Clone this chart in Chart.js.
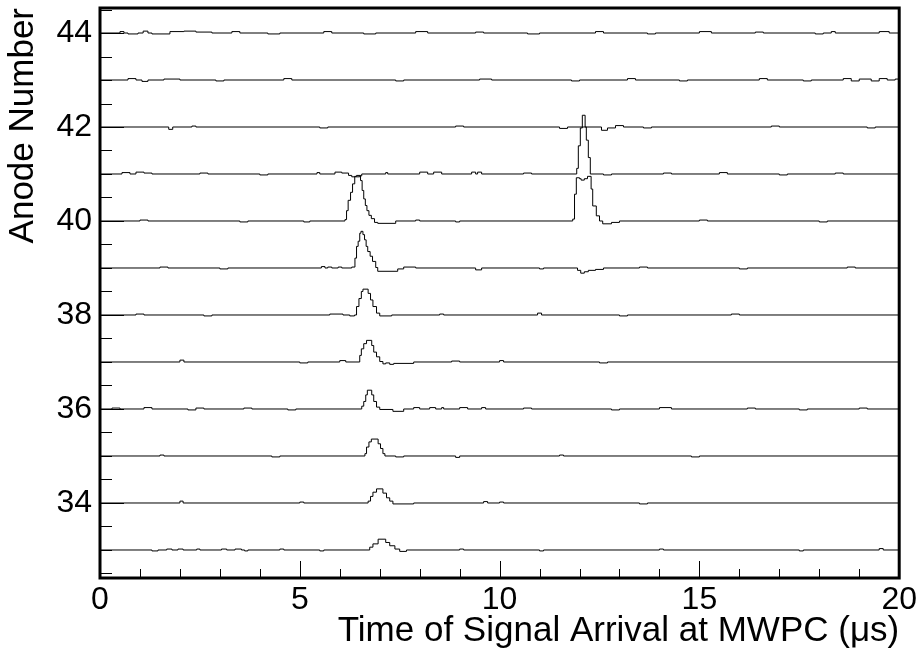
<!DOCTYPE html>
<html>
<head>
<meta charset="utf-8">
<script src="https://cdn.jsdelivr.net/npm/chart.js@4.4.1/dist/chart.umd.min.js"></script>
<style>
  html, body { margin: 0; padding: 0; background: #fff; }
  #wrap { width: 920px; height: 657px; }
</style>
</head>
<body>
<div id="wrap"><canvas id="mwpcChart" width="920" height="657"></canvas></div>
<script>
// anode channels (bottom to top) and tick labels
const anodes = [33, 34, 35, 36, 37, 38, 39, 40, 41, 42, 43, 44];
const yTickLabels = [34, 36, 38, 40, 42, 44];
const xTickLabels = [0, 5, 10, 15, 20];

// traces: [time in us, pulse height above the anode baseline]
// each value holds from its time until the next point
const ch44 = [[0,0],[0.5,0.03],[0.6,0],[0.7,-0.02],[0.95,0],[1.08,0.04],[1.2,0],[1.3,-0.02],[1.75,0.03],[2.1,0.04],[2.4,0.02],[2.8,0],[3.3,0.03],[3.5,0],[4.2,-0.02],[4.5,0],[5.6,0.03],[5.8,0],[6.6,-0.02],[6.9,0],[7.9,0.03],[8.2,0],[9.4,0.02],[9.6,0],[10.7,-0.02],[11.0,0],[12.4,0.03],[12.6,0],[13.7,-0.02],[13.9,0],[15.0,0.03],[15.3,0],[16.4,0.02],[16.6,0],[17.9,-0.02],[18.1,0],[18.3,0.03],[18.4,0],[19.5,0.03],[19.75,0],[20,0]];
const ch43 = [[0,0],[0.7,0.03],[0.9,0],[1.05,-0.03],[1.2,0],[1.6,0.02],[2.0,0],[2.9,-0.02],[3.1,0],[4.6,0.03],[4.8,0],[7.4,-0.02],[7.6,0],[9.5,0.02],[9.8,0],[11.8,-0.02],[12.0,0],[13.2,0.03],[13.4,0],[14.5,-0.02],[14.7,0],[16.5,0.03],[16.7,0],[17.6,-0.02],[17.8,0],[18.6,0.03],[18.8,-0.02],[19.0,0.02],[19.3,-0.02],[19.5,0.03],[19.7,0],[19.9,0.02],[20,0.02]];
const ch42 = [[0,0],[1.72,-0.05],[1.82,0],[2.3,0.02],[2.4,0],[5.5,-0.02],[5.7,0],[8.9,0.02],[9.1,0],[11.5,-0.03],[11.7,0],[12.55,-0.07],[12.7,-0.02],[12.9,0.03],[13.1,0],[13.6,-0.02],[13.8,0],[16.8,0.02],[17.0,0],[19.2,-0.02],[19.4,0],[20,0]];
const ch41 = [[0,0],[0.55,0.03],[0.75,0],[0.9,0.04],[1.1,0.02],[1.3,0],[2.5,0.02],[2.7,0],[4.0,-0.02],[4.2,0],[5.43,0.03],[5.5,0],[5.88,0.04],[6.05,0.02],[6.22,-0.03],[6.3,-0.06],[6.5,-0.04],[6.55,0],[7.15,0.03],[7.2,0],[8.0,0.04],[8.2,0],[8.35,0.04],[8.55,0],[9.3,0.04],[9.4,0],[9.45,0.04],[9.55,0],[10.6,0.02],[10.8,0],[11.93,0.12],[11.97,0.6],[12.02,0.98],[12.07,1.25],[12.14,1.0],[12.17,0.72],[12.22,0.35],[12.27,0],[12.6,-0.02],[12.8,0],[14.1,0.02],[14.3,0],[15.5,0.03],[15.7,0],[17.0,-0.02],[17.2,0],[18.4,0.02],[18.6,0],[20,0]];
const ch40 = [[0,0],[1.0,0.02],[1.2,0],[3.5,-0.02],[3.7,0],[5.1,-0.02],[5.25,0],[6.13,0.03],[6.17,0.22],[6.21,0.44],[6.27,0.61],[6.32,0.79],[6.375,0.95],[6.42,0.97],[6.52,0.86],[6.56,0.65],[6.6,0.47],[6.64,0.33],[6.68,0.22],[6.73,0.12],[6.79,0.05],[6.87,-0.03],[6.95,-0.05],[7.4,0],[7.9,0.02],[8.0,0],[8.9,-0.02],[9.0,0],[11.83,0.04],[11.875,0.57],[11.92,0.92],[12.0,0.9],[12.04,0.87],[12.12,0.9],[12.2,0.95],[12.29,0.68],[12.33,0.32],[12.42,0.11],[12.5,0],[12.58,-0.06],[12.8,-0.03],[13.0,0],[15.0,0.02],[15.2,0],[18.0,-0.02],[18.2,0],[20,0]];
const ch39 = [[0,0],[1.5,0.02],[1.7,0],[3.0,-0.02],[3.2,0],[5.54,0.03],[5.63,0],[5.7,0.02],[5.8,0],[5.96,0.02],[6.05,0],[6.3,0.02],[6.38,0.21],[6.42,0.46],[6.46,0.57],[6.5,0.74],[6.53,0.78],[6.58,0.71],[6.62,0.6],[6.66,0.46],[6.7,0.35],[6.76,0.25],[6.82,0.14],[6.9,0.01],[6.95,-0.07],[7.45,-0.02],[7.6,0.02],[7.9,0],[9.4,-0.04],[9.55,0],[11.0,-0.02],[11.1,0],[11.95,-0.05],[12.03,-0.11],[12.12,-0.08],[12.22,-0.05],[12.4,-0.03],[12.6,0],[13.5,0.02],[13.7,0],[16.0,-0.02],[16.2,0],[18.7,0.02],[18.9,0],[20,0]];
const ch38 = [[0,0],[0.9,0.02],[1.1,0],[2.6,-0.02],[2.8,0],[5.75,0.02],[6.08,0],[6.25,-0.02],[6.37,0],[6.42,0.18],[6.48,0.35],[6.54,0.5],[6.58,0.55],[6.71,0.46],[6.77,0.32],[6.83,0.18],[6.92,0.04],[7.0,-0.02],[7.3,0],[8.5,0.02],[8.6,0],[10.95,0.04],[11.05,0],[13.0,-0.02],[13.2,0],[15.8,0.02],[16.0,0],[20,0]];
const ch37 = [[0,0],[2.0,0.04],[2.1,0],[5.0,-0.02],[5.2,0],[6.0,0.03],[6.15,0],[6.5,0.14],[6.54,0.28],[6.6,0.39],[6.67,0.46],[6.8,0.35],[6.85,0.21],[6.92,0.11],[7.0,0.01],[7.08,-0.04],[7.15,-0.02],[7.25,-0.05],[7.35,-0.03],[7.85,0],[8.8,0.02],[9.0,0],[10.0,0.03],[10.1,0],[12.5,-0.02],[12.7,0],[20,0]];
const ch36 = [[0,0],[0.3,0.02],[0.5,0],[1.1,0.03],[1.3,0],[2.2,-0.02],[2.4,0.02],[2.6,0],[3.6,0.02],[3.8,0],[4.7,-0.02],[4.9,0],[6.55,0.06],[6.6,0.16],[6.65,0.3],[6.69,0.4],[6.8,0.3],[6.85,0.16],[6.92,0.04],[7.0,-0.01],[7.33,-0.05],[7.6,0],[7.85,0.03],[8.0,0],[8.25,0.03],[8.4,0],[8.55,0.03],[8.6,0],[9.0,0.03],[9.2,0],[9.55,0.03],[9.65,0],[10.6,0.02],[10.8,0],[12.8,-0.02],[13.0,0],[14.0,0.03],[14.3,0],[16.2,0.02],[16.4,0],[17.5,-0.02],[17.7,0],[19.0,0.02],[19.2,0],[20,0]];
const ch35 = [[0,0],[1.5,0.02],[1.6,0],[4.3,-0.02],[4.5,0],[6.63,0.05],[6.67,0.19],[6.73,0.3],[6.79,0.36],[6.96,0.26],[7.02,0.16],[7.08,0.05],[7.13,0],[7.4,-0.02],[7.6,0],[8.9,-0.03],[9.0,0],[11.5,0.02],[11.6,0],[14.8,-0.02],[15.0,0],[20,0]];
const ch34 = [[0,0],[2.0,0.04],[2.08,0],[5.0,0.02],[5.1,0],[6.71,0.04],[6.77,0.14],[6.83,0.23],[6.92,0.3],[7.08,0.21],[7.17,0.11],[7.25,0.04],[7.33,-0.02],[7.85,0],[9.6,0.03],[9.7,0],[10.0,0.02],[10.1,0],[13.5,-0.02],[13.7,0],[20,0]];
const ch33 = [[0,0],[1.3,-0.02],[1.45,0],[1.67,0.02],[1.8,0],[1.95,0.02],[2.08,0],[2.42,0.02],[2.5,0],[3.04,0.02],[3.17,0],[3.38,0.02],[3.54,0],[3.62,-0.02],[3.7,0],[4.5,0.02],[4.6,0],[5.5,-0.02],[5.6,0],[6.75,0.06],[6.83,0.13],[6.96,0.23],[7.15,0.16],[7.25,0.09],[7.38,0.02],[7.5,-0.03],[7.67,0],[9.0,0.02],[9.1,0],[11.0,-0.02],[11.1,0],[14.0,0.02],[14.1,0],[17.5,-0.02],[17.6,0],[19.5,0.03],[19.6,0],[20,0]];

const traces = [ch33, ch34, ch35, ch36, ch37, ch38, ch39, ch40, ch41, ch42, ch43, ch44];

Chart.defaults.font.family = '"Liberation Sans", Arial, sans-serif';
Chart.defaults.color = '#000';

// build one stepped line per anode, shifted up to its anode number
const datasets = anodes.map((n, i) => ({
    label: 'Anode ' + n,
    data: traces[i].map(p => ({ x: p[0], y: n + p[1] })),
    borderColor: '#000',
    borderWidth: 1,
    pointRadius: 0,
    stepped: true,
    fill: false
}));

// inward ticks and the thick frame, like the original plot
const framePlugin = {
    id: 'frameTicks',
    afterDatasetsDraw(chart) {
        const { ctx, chartArea: a, scales: { x, y } } = chart;
        ctx.save();
        ctx.strokeStyle = '#000';
        ctx.lineWidth = 1;
        ctx.beginPath();
        for (let v = x.min; v <= x.max; v += 1) {
            const px = Math.round(x.getPixelForValue(v)) + 0.5;
            const len = v % 5 === 0 ? 17 : 9;
            ctx.moveTo(px, a.bottom);
            ctx.lineTo(px, a.bottom - len);
        }
        for (let v = Math.ceil(y.min * 2) / 2; v <= y.max; v += 0.5) {
            const py = Math.round(y.getPixelForValue(v)) + 0.5;
            const len = v % 2 === 0 ? 24 : 12;
            ctx.moveTo(a.left, py);
            ctx.lineTo(a.left + len, py);
        }
        ctx.stroke();
        ctx.lineWidth = 3;
        ctx.strokeRect(a.left, a.top, a.right - a.left, a.bottom - a.top);
        ctx.restore();
    }
};

const ctx = document.getElementById('mwpcChart').getContext('2d');
const mwpcChart = new Chart(ctx, {
    type: 'line',
    data: { datasets: datasets },
    options: {
        responsive: false,
        animation: false,
        devicePixelRatio: 1,
        layout: { padding: { left: 0, right: 20, top: 8, bottom: 0 } },
        plugins: {
            legend: { display: false },
            tooltip: { enabled: false }
        },
        scales: {
            x: {
                type: 'linear',
                min: 0,
                max: 20,
                afterBuildTicks: s => { s.ticks = xTickLabels.map(v => ({ value: v })); },
                afterFit: s => { s.height = 79; },
                grid: { display: false, drawTicks: false },
                border: { display: false },
                ticks: { font: { size: 32 }, padding: 3, maxRotation: 0 },
                title: {
                    display: true,
                    text: 'Time of Signal Arrival at MWPC (\u03bcs)',
                    align: 'end',
                    font: { size: 35, lineHeight: 1.2 },
                    padding: { top: 0, bottom: 5 }
                }
            },
            y: {
                type: 'linear',
                min: 32.404,
                max: 44.532,
                afterBuildTicks: s => { s.ticks = yTickLabels.map(v => ({ value: v })); },
                afterFit: s => { s.width = 100; s.paddingTop = 0; s.paddingBottom = 0; },
                grid: { display: false, drawTicks: false },
                border: { display: false },
                ticks: { font: { size: 32 }, padding: 8 },
                title: {
                    display: true,
                    text: 'Anode Number',
                    align: 'end',
                    font: { size: 35, lineHeight: 1.2 },
                    padding: { top: 2, bottom: 0 }
                }
            }
        }
    },
    plugins: [framePlugin]
});
</script>
</body>
</html>
